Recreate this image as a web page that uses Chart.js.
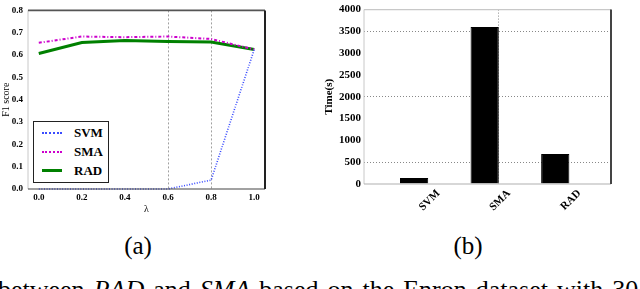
<!DOCTYPE html>
<html><head><meta charset="utf-8">
<script src="https://cdn.jsdelivr.net/npm/chart.js@4.4.0/dist/chart.umd.min.js"></script>
<style>
html,body{margin:0;padding:0;background:#fff;width:640px;height:289px;overflow:hidden;position:relative;font-family:'Liberation Serif',serif;}
#c1{position:absolute;left:0;top:0;}
#c2{position:absolute;left:300px;top:0;}
.cap{position:absolute;white-space:nowrap;color:#000;}
#legend{position:absolute;left:33px;top:121px;width:76px;height:62px;border:1px solid #222;background:#fff;box-sizing:border-box;}
.lrow{position:absolute;left:0;height:19px;width:74px;}
.lline{position:absolute;left:8px;width:20px;top:9px;height:0;}
.ltxt{position:absolute;left:40px;top:0;font:bold 13px 'Liberation Serif',serif;line-height:19px;}
</style></head>
<body>
<canvas id="c1" width="280" height="225"></canvas>
<canvas id="c2" width="330" height="225"></canvas>
<div id="legend"></div>
<div class="cap" style="left:88px;width:100px;text-align:center;top:233px;font-size:25px;line-height:25px;">(a)</div>
<div class="cap" style="left:418px;width:100px;text-align:center;top:233px;font-size:25px;line-height:25px;">(b)</div>
<div class="cap" style="left:-2px;top:277px;font-size:26px;line-height:26px;word-spacing:2.5px;">between <i>RAD</i> and <i>SMA</i> based on the Enron dataset with 30</div>
<script>
// ---- data ----
const lambdas = [0.0, 0.2, 0.4, 0.6, 0.8, 1.0];
const svmF1 = [0.0, 0.0, 0.0, 0.0, 0.04, 0.625];
const smaF1 = [0.655, 0.683, 0.68, 0.683, 0.672, 0.625];
const radF1 = [0.607, 0.656, 0.665, 0.661, 0.658, 0.625];
const f1Ticks = [0.0, 0.1, 0.2, 0.3, 0.4, 0.5, 0.6, 0.7, 0.8];
const lambdaTicks = [0.0, 0.2, 0.4, 0.6, 0.8, 1.0];
const seriesNames = ['SVM', 'SMA', 'RAD'];
const methods = ['SVM', 'SMA', 'RAD'];
const timeSec = [140, 3600, 690];
const timeTicks = [0, 500, 1000, 1500, 2000, 2500, 3000, 3500, 4000];

const SERIF = "'Liberation Serif', serif";

const framePlugin = {
  id: 'frame',
  afterDraw(chart, args, opts) {
    const {ctx, chartArea: a} = chart;
    const seg = (x1, y1, x2, y2, c, w) => { ctx.save(); ctx.strokeStyle = c; ctx.lineWidth = w; ctx.beginPath(); ctx.moveTo(x1, y1); ctx.lineTo(x2, y2); ctx.stroke(); ctx.restore(); };
    seg(a.left, a.top, a.left, a.bottom, opts.left[0], opts.left[1]);
    seg(a.left, a.bottom, a.right, a.bottom, opts.bottom[0], opts.bottom[1]);
    seg(a.left, a.top, a.right, a.top, opts.top[0], opts.top[1]);
    seg(a.right, a.top, a.right, a.bottom, opts.right[0], opts.right[1]);
  }
};

// ---- chart (a) ----
const styles = [
  {borderColor: '#3a4cff', borderWidth: 1.6, borderDash: [1, 1.6]},
  {borderColor: '#cc00cc', borderWidth: 2, borderDash: [3, 2, 1, 2]},
  {borderColor: '#008000', borderWidth: 3, borderDash: []}
];
const f1Series = [svmF1, smaF1, radF1];

new Chart(document.getElementById('c1'), {
  type: 'line',
  data: {
    datasets: seriesNames.map((n, k) => Object.assign({
      label: n,
      data: lambdas.map((x, i) => ({x, y: f1Series[k][i]})),
      pointRadius: 0, fill: false, tension: 0, clip: false
    }, styles[k]))
  },
  plugins: [framePlugin],
  options: {
    responsive: false, animation: false,
    layout: {padding: {top: 10, right: 15, left: 0, bottom: 0}},
    plugins: {
      legend: {display: false}, tooltip: {enabled: false},
      frame: {left: ['#c8c8c8', 1], bottom: ['#444', 1.2], top: ['#555', 1.8], right: ['#222', 2]}
    },
    scales: {
      x: {
        type: 'linear', min: -0.05, max: 1.05,
        afterBuildTicks: s => { s.ticks = lambdaTicks.map(v => ({value: v})); },
        afterFit: s => { s.height = 36; },
        ticks: {callback: v => v.toFixed(1), font: {family: SERIF, size: 9, weight: 'bold'}, color: '#000', padding: 3, maxRotation: 0},
        grid: {drawTicks: false, color: c => (c.tick && (Math.abs(c.tick.value - 0.6) < 1e-6 || Math.abs(c.tick.value - 0.8) < 1e-6)) ? '#a0a0a0' : 'rgba(0,0,0,0)', lineWidth: 1},
        border: {display: false, dash: [2, 2]},
        title: {display: true, text: 'λ', font: {family: SERIF, size: 10}, color: '#000', padding: {top: 0, bottom: 10}}
      },
      y: {
        min: 0, max: 0.8,
        afterBuildTicks: s => { s.ticks = f1Ticks.map(v => ({value: v})); },
        afterFit: s => { s.width = 28; },
        ticks: {callback: v => v.toFixed(1), font: {family: SERIF, size: 9, weight: 'bold'}, color: '#000', padding: 5},
        grid: {display: false, drawTicks: false},
        border: {display: false},
        title: {display: true, text: 'F1 score', font: {family: SERIF, size: 10}, color: '#000', padding: {top: 0, bottom: 0}}
      }
    }
  }
});

// legend (a)
const leg = document.getElementById('legend');
const lineCss = [
  'border-top:2px dotted #3a4cff;',
  'border-top:2px dotted #cc00cc;',
  'border-top:3px solid #008000;top:8px;'
];
seriesNames.forEach((n, k) => {
  const r = document.createElement('div');
  r.className = 'lrow';
  r.style.top = (1 + k * 19) + 'px';
  r.innerHTML = '<div class="lline" style="' + lineCss[k] + '"></div><div class="ltxt">' + n + '</div>';
  leg.appendChild(r);
});

// ---- chart (b) ----
const barHalf = 0.2;
new Chart(document.getElementById('c2'), {
  type: 'bar',
  data: {
    datasets: [{
      data: methods.map((m, i) => ({x: i, y: timeSec[i]})),
      backgroundColor: '#000', borderColor: '#000', borderWidth: 1,
      barPercentage: 0.4, categoryPercentage: 1
    }]
  },
  plugins: [framePlugin],
  options: {
    responsive: false, animation: false,
    layout: {padding: {top: 6, right: 19, left: 0, bottom: 0}},
    plugins: {
      legend: {display: false}, tooltip: {enabled: false},
      frame: {left: ['#c8c8c8', 1], bottom: ['#b0b0b0', 1.2], top: ['#c8c8c8', 1.2], right: ['#444', 2]}
    },
    scales: {
      x: {
        type: 'linear', min: -0.71, max: 2.79, offset: false,
        afterBuildTicks: s => { s.ticks = methods.map((m, i) => ({value: i + barHalf})); },
        afterFit: s => { s.height = 41; },
        ticks: {callback: v => methods[Math.round(v - barHalf)], minRotation: 45, maxRotation: 45, labelOffset: 10,
                font: {family: SERIF, size: 11, weight: 'bold'}, color: '#000', padding: 3},
        grid: {offset: false, drawTicks: false, color: c => (c.tick && Math.round(c.tick.value - barHalf) === 1) ? '#888' : 'rgba(0,0,0,0)', lineWidth: 1},
        border: {display: false, dash: [1, 2]}
      },
      y: {
        min: 0, max: 4000,
        afterBuildTicks: s => { s.ticks = timeTicks.map(v => ({value: v})); },
        afterFit: s => { s.width = 64; },
        ticks: {callback: v => String(v), font: {family: SERIF, size: 11, weight: 'bold'}, color: '#000', padding: 3},
        grid: {drawTicks: false, color: c => (c.tick && c.tick.value % 1500 === 500) ? '#888' : 'rgba(0,0,0,0)', lineWidth: 1},
        border: {display: false, dash: [1, 2]},
        title: {display: true, text: 'Time(s)', font: {family: SERIF, size: 11, weight: 'bold'}, color: '#000', padding: {top: 23, bottom: 0}}
      }
    }
  }
});
</script>
</body></html>
